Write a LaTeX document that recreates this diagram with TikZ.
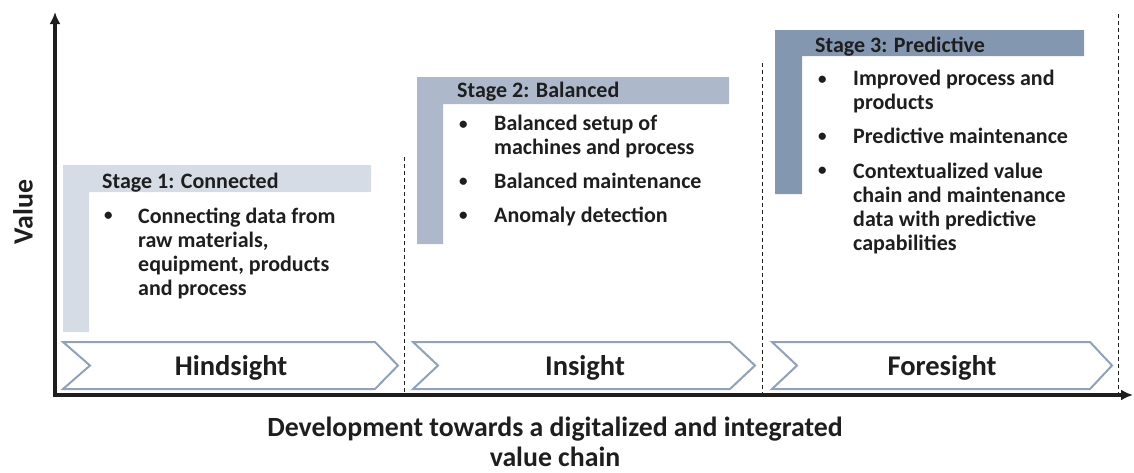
\documentclass[tikz,border=0pt]{standalone}
\usepackage{fontspec}
\setmainfont{Carlito}
\usetikzlibrary{arrows.meta}
\definecolor{sone}{HTML}{D6DCE5}
\definecolor{stwo}{HTML}{ADB9CA}
\definecolor{sthree}{HTML}{8497B0}
\definecolor{chev}{HTML}{8FA2BC}
\definecolor{ink}{HTML}{1E1E1E}
\tikzset{
  axis/.style={line width=3.2pt, ink, {Latex[length=12pt,width=11pt]}-{Latex[length=12pt,width=11pt]}},
  divider/.style={ink, line width=0.9pt, dash pattern=on 4pt off 3pt},
  chevron/.style={draw=chev, fill=white, line width=2pt, line join=miter},
  stitle/.style={anchor=base west, inner sep=0pt, text=ink, font=\fontsize{22}{24}\selectfont\bfseries},
  btext/.style={anchor=base west, inner sep=0pt, text=ink, align=left, font=\fontsize{22}{24}\selectfont\bfseries},
  bdot/.style={anchor=base west, inner sep=0pt, text=ink, font=\fontsize{17}{20}\selectfont\bfseries},
  chevtext/.style={anchor=base, inner sep=0pt, text=ink, font=\fontsize{28.5}{30}\selectfont\bfseries},
  axlabel/.style={anchor=base, inner sep=0pt, text=ink, align=center, font=\fontsize{27.8}{30}\selectfont\bfseries},
}
\begin{document}
\begin{tikzpicture}[x=1pt,y=-1pt]
\useasboundingbox (0,0) rectangle (1134,472);

% stage L-shapes
\fill[sone] (63,165) -- (371,165) -- (371,192) -- (89,192) -- (89,332) -- (63,332) -- cycle;
\fill[stwo] (417,77) -- (729,77) -- (729,104) -- (443,104) -- (443,244) -- (417,244) -- cycle;
\fill[sthree] (775,30) -- (1084,30) -- (1084,56) -- (802,56) -- (802,194) -- (775,194) -- cycle;

% dashed dividers
\coordinate (d1t) at (404,157); \coordinate (d1b) at (404,395);
\coordinate (d2t) at (762,63);  \coordinate (d2b) at (762,395);
\coordinate (d3t) at (1118,14); \coordinate (d3b) at (1118,395);
\draw[divider] (d1t) -- (d1b);
\draw[divider] (d2t) -- (d2b);
\draw[divider] (d3t) -- (d3b);

% chevrons
\draw[chevron] (63,342) -- (375,342) -- (398,365.5) -- (375,389) -- (63,389) -- (90,365.5) -- cycle;
\draw[chevron] (413,342) -- (730,342) -- (755,365.5) -- (730,389) -- (413,389) -- (438,365.5) -- cycle;
\draw[chevron] (772,342) -- (1090,342) -- (1112,365.5) -- (1090,389) -- (772,389) -- (797,365.5) -- cycle;
\node[chevtext] (hind) at (231,375) {Hindsight};
\node[chevtext] (ins) at (585,375) {Insight};
\node[chevtext] (fore) at (942,375) {Foresight};

% axes
\coordinate (O) at (55,395);
\coordinate (ytop) at (55,12);
\coordinate (xend) at (1133,395);
\draw[axis] (ytop) -- (O) -- (xend);

\node[axlabel, rotate=90, anchor=center] (vlab) at (23,212) {Value};
\node[axlabel] (xlab1) at (555,436) {Development towards a digitalized and integrated};
\node[axlabel] (xlab2) at (555,466) {value chain};

% stage 1
\node[stitle] (t1) at (102,188) {Stage 1: Connected};
\node[bdot] (b11) at (104,220) {•};
\node[btext] (i11) at (138,295) {Connecting data from\\raw materials,\\equipment, products\\and process};

% stage 2
\node[stitle] (t2) at (457,97) {Stage 2: Balanced};
\node[bdot] (b21) at (459,129) {•};
\node[btext] (i21) at (494,154) {Balanced setup of\\machines and process};
\node[bdot] (b22) at (459,186) {•};
\node[btext] (i22) at (494,188) {Balanced maintenance};
\node[bdot] (b23) at (459,220) {•};
\node[btext] (i23) at (494,222) {Anomaly detection};

% stage 3
\node[stitle] (t3) at (815,52) {Stage 3: Predictive};
\node[bdot] (b31) at (818,84) {•};
\node[btext] (i31) at (853,109) {Improved process and\\products};
\node[bdot] (b32) at (818,141) {•};
\node[btext] (i32) at (853,143) {Predictive maintenance};
\node[bdot] (b33) at (818,175) {•};
\node[btext] (i33) at (853,250) {Contextualized value\\chain and maintenance\\data with predictive\\capabilities};
\end{tikzpicture}
\end{document}
